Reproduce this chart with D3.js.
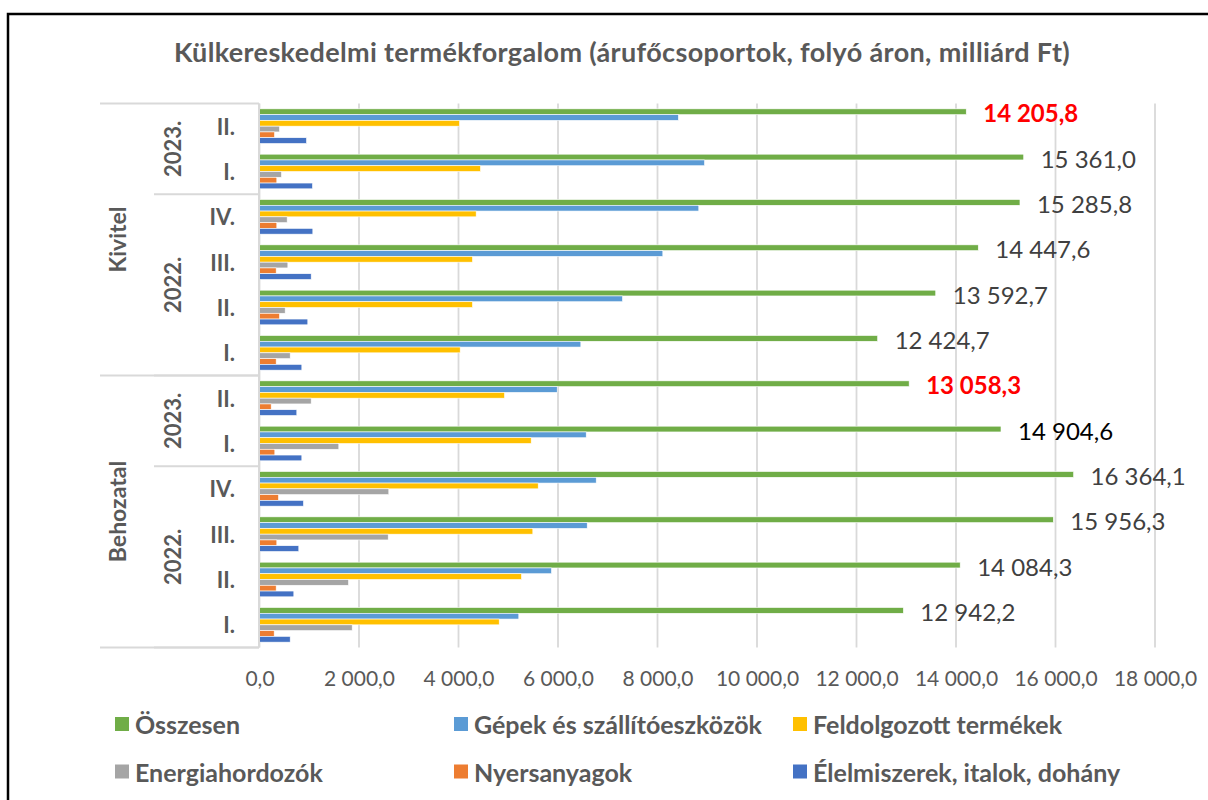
<!DOCTYPE html>
<head>
    <meta charset="utf-8">
    <script src="https://d3js.org/d3.v7.min.js"></script>
    <title>Külkereskedelmi termékforgalom</title>
    <style>
        body { margin: 0; background: white; }
        text { font-family: Lato, "Open Sans", sans-serif; }
    </style>
</head>
<body>
<svg class="chart" width="1208" height="800"></svg>
<script>
    // categories, top to bottom as in the picture
    const flows = ["Kivitel", "Kivitel", "Kivitel", "Kivitel", "Kivitel", "Kivitel",
        "Behozatal", "Behozatal", "Behozatal", "Behozatal", "Behozatal", "Behozatal"];
    const years = ["2023.", "2023.", "2022.", "2022.", "2022.", "2022.",
        "2023.", "2023.", "2022.", "2022.", "2022.", "2022."];
    const quarters = ["II.", "I.", "IV.", "III.", "II.", "I.",
        "II.", "I.", "IV.", "III.", "II.", "I."];

    // series values, milliárd Ft
    const osszesen = [14205.8, 15361.0, 15285.8, 14447.6, 13592.7, 12424.7,
        13058.3, 14904.6, 16364.1, 15956.3, 14084.3, 12942.2];
    const gepek = [8420, 8945, 8830, 8107, 7296, 6459, 5984, 6567, 6768, 6587, 5869, 5212];
    const feldolgozott = [4020, 4442, 4355, 4281, 4281, 4034, 4925, 5461, 5602, 5494, 5266, 4818];
    const energia = [402, 442, 556, 570, 516, 617, 1039, 1594, 2599, 2587, 1789, 1863];
    const nyersanyag = [302, 348, 348, 335, 402, 335, 235, 308, 382, 348, 335, 295];
    const elelmiszer = [945, 1065, 1072, 1039, 971, 851, 750, 851, 884, 790, 690, 617];

    const seriesNames = ["Összesen", "Gépek és szállítóeszközök", "Feldolgozott termékek",
        "Energiahordozók", "Nyersanyagok", "Élelmiszerek, italok, dohány"];
    const seriesValues = [osszesen, gepek, feldolgozott, energia, nyersanyag, elelmiszer];
    const seriesColors = ["#70AD47", "#5B9BD5", "#FFC000", "#A5A5A5", "#ED7D31", "#4472C4"];

    const xTicks = [0, 2000, 4000, 6000, 8000, 10000, 12000, 14000, 16000, 18000];

    const svg = d3.select(".chart");
    const grey = "#595959";
    const gridColor = "#d9d9d9";

    // outer frame
    svg.append("rect")
        .attr("x", 8).attr("y", 14)
        .attr("width", 1400).attr("height", 1000)
        .attr("fill", "white")
        .attr("stroke", "black")
        .attr("stroke-width", 2.5);

    svg.append("text")
        .attr("x", 622).attr("y", 51)
        .attr("text-anchor", "middle")
        .attr("dominant-baseline", "central")
        .style("font-size", "27px")
        .style("letter-spacing", "0.35px")
        .style("font-weight", "bold")
        .attr("fill", grey)
        .text("Külkereskedelmi termékforgalom (árufőcsoportok, folyó áron, milliárd Ft)");

    const plotTop = 103.5, plotBottom = 647.5;

    const x = d3.scaleLinear().domain([0, 18000]).range([259.5, 1155]);
    const y = d3.scaleBand()
        .domain(d3.range(quarters.length))
        .range([plotTop, plotBottom])
        .paddingInner(0.236)
        .paddingOuter(0.118);
    const ys = d3.scaleBand()
        .domain(seriesNames)
        .range([0, y.bandwidth()]);

    const fmt = v => d3.format(",.1f")(v).replace(/,/g, " ").replace(".", ",");

    // gridlines
    svg.append("g")
        .selectAll("line")
        .data(xTicks)
        .join("line")
        .attr("x1", d => x(d)).attr("x2", d => x(d))
        .attr("y1", plotTop).attr("y2", plotBottom)
        .attr("stroke", gridColor)
        .attr("stroke-width", 1.8);

    // x axis labels
    const xAxis = svg.append("g")
        .attr("transform", "translate(0," + 677 + ")")
        .call(d3.axisBottom(x).tickValues(xTicks).tickFormat(fmt).tickSize(0).tickPadding(0));
    xAxis.select(".domain").remove();
    xAxis.selectAll("text")
        .attr("dy", null)
        .attr("y", 0)
        .attr("dominant-baseline", "central")
        .style("font-size", "21px")
        .style("font-family", "Lato, sans-serif")
        .attr("fill", grey);

    // bars
    seriesNames.forEach(function(name, s){
        svg.append("g")
            .selectAll("rect")
            .data(seriesValues[s])
            .join("rect")
            .attr("x", x(0))
            .attr("y", (d, i) => y(i) + ys(name))
            .attr("width", d => x(d) - x(0))
            .attr("height", ys.bandwidth())
            .attr("fill", seriesColors[s])
            .attr("stroke", "white")
            .attr("stroke-width", 0.6);
    });

    // data labels for total
    svg.append("g")
        .selectAll("text")
        .data(osszesen)
        .join("text")
        .attr("x", d => x(d) + 17)
        .attr("y", (d, i) => y(i) + ys(seriesNames[0]) + ys.bandwidth() / 2 + 1)
        .attr("dominant-baseline", "central")
        .style("font-size", "24px")
        .style("font-weight", (d, i) => (i === 0 || i === 6) ? "bold" : "normal")
        .attr("fill", (d, i) => (i === 0 || i === 6) ? "#FF0000" : (i === 7 ? "#000000" : "#404040"))
        .text(fmt);

    // multi-level category axis
    const axisG = svg.append("g");
    const leftOuter = 100, leftYear = 154, axisX = 259;

    axisG.append("line")
        .attr("x1", axisX).attr("x2", axisX)
        .attr("y1", plotTop).attr("y2", plotBottom)
        .attr("stroke", gridColor).attr("stroke-width", 2);

    axisG.selectAll(".quarter")
        .data(quarters)
        .join("text")
        .attr("class", "quarter")
        .attr("x", 235)
        .attr("y", (d, i) => y(i) + y.bandwidth() / 2)
        .attr("text-anchor", "end")
        .attr("dominant-baseline", "central")
        .style("font-size", "22px")
        .style("font-weight", "bold")
        .attr("fill", grey)
        .text(d => d);

    function runs(keys){
        const out = [];
        keys.forEach(function(k, i){
            if (out.length && out[out.length - 1].key === k) out[out.length - 1].end = i;
            else out.push({key: k, start: i, end: i});
        });
        return out;
    }
    const edge = i => plotTop + i * y.step();

    const yearRuns = runs(flows.map((f, i) => f + "|" + years[i]));
    const flowRuns = runs(flows);

    yearRuns.forEach(function(r){
        const y0 = edge(r.start), y1 = edge(r.end + 1);
        axisG.append("line")
            .attr("x1", leftYear).attr("x2", axisX)
            .attr("y1", y1).attr("y2", y1)
            .attr("stroke", gridColor).attr("stroke-width", 2);
        axisG.append("text")
            .attr("transform", "translate(172," + ((y0 + y1) / 2) + ") rotate(-90)")
            .attr("text-anchor", "middle")
            .attr("dominant-baseline", "central")
            .style("font-size", "22px")
            .style("font-weight", "bold")
            .attr("fill", grey)
            .text(r.key.split("|")[1]);
    });

    axisG.append("line")
        .attr("x1", leftOuter).attr("x2", axisX)
        .attr("y1", plotTop).attr("y2", plotTop)
        .attr("stroke", gridColor).attr("stroke-width", 2);

    flowRuns.forEach(function(r){
        const y0 = edge(r.start), y1 = edge(r.end + 1);
        axisG.append("line")
            .attr("x1", leftOuter).attr("x2", axisX)
            .attr("y1", y1).attr("y2", y1)
            .attr("stroke", gridColor).attr("stroke-width", 2);
        axisG.append("text")
            .attr("transform", "translate(117," + ((y0 + y1) / 2) + ") rotate(-90)")
            .attr("text-anchor", "middle")
            .attr("dominant-baseline", "central")
            .style("font-size", "23px")
            .style("font-weight", "bold")
            .attr("fill", grey)
            .text(r.key);
    });

    // legend
    const legendPos = [[115, 724], [454, 724], [793, 724], [115, 771.5], [454, 771.5], [793, 771.5]];
    const legendOrder = [0, 1, 2, 3, 4, 5];
    const legend = svg.append("g")
        .selectAll("g")
        .data(legendOrder)
        .join("g")
        .attr("transform", (d, i) => "translate(" + legendPos[i][0] + "," + legendPos[i][1] + ")");
    legend.append("rect")
        .attr("x", 0).attr("y", -7)
        .attr("width", 14).attr("height", 14)
        .attr("fill", d => seriesColors[d]);
    legend.append("text")
        .attr("x", 20).attr("y", 0)
        .attr("dominant-baseline", "central")
        .style("font-size", "25px")
        .style("font-weight", "bold")
        .attr("fill", grey)
        .text(d => seriesNames[d]);
</script>
</body>
